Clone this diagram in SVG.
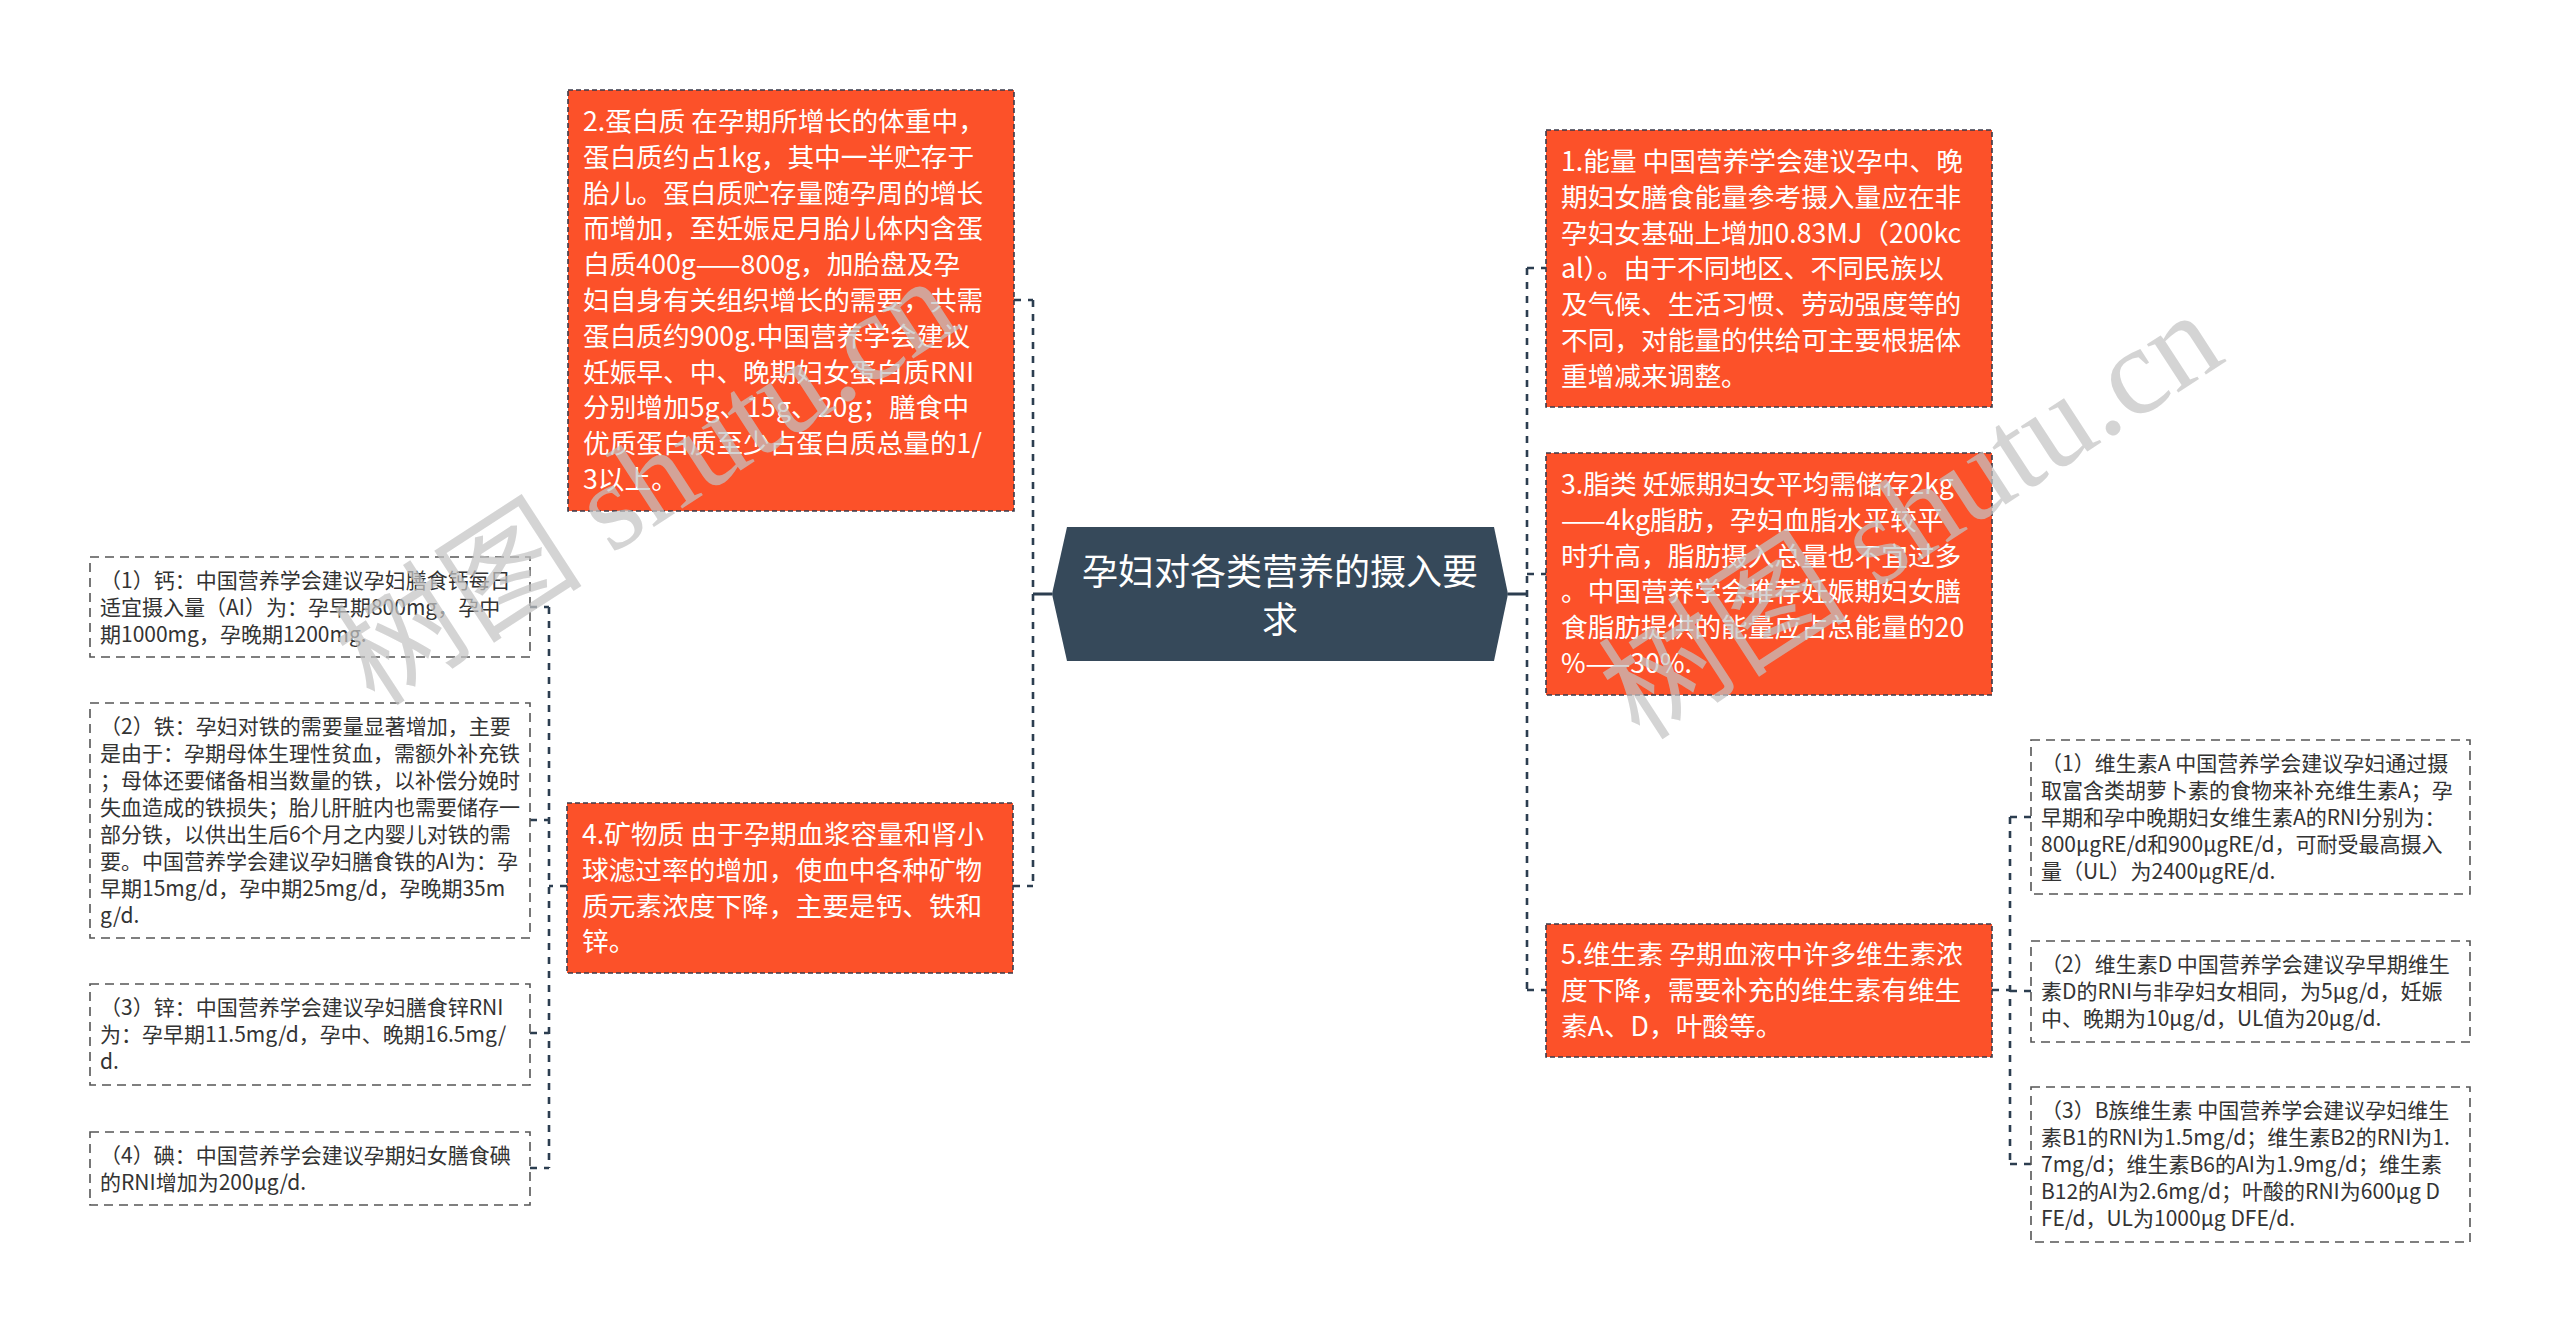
<svg xmlns="http://www.w3.org/2000/svg" width="2560" height="1332" viewBox="0 0 2560 1332">
<style>
.main{fill:#FC5129;stroke:#3a3a4a;stroke-width:1.6;stroke-dasharray:5 3}
.sub{fill:#ffffff;stroke:#555555;stroke-width:1.6;stroke-dasharray:9 6}
.mt{font-family:"Noto Sans CJK SC","Noto Sans",sans-serif;font-size:26.7px;fill:#ffffff}
.st{font-family:"Noto Sans CJK SC","Noto Sans",sans-serif;font-size:21px;fill:#333333}
.ct{font-family:"Noto Sans CJK SC","Noto Sans",sans-serif;font-size:36px;fill:#ffffff;text-anchor:middle}
.solid{stroke:#2c3e50;stroke-width:3;fill:none}
.dash{stroke:#2c3e50;stroke-width:2.6;fill:none;stroke-dasharray:7 7}
.wm{font-family:"Liberation Serif","Noto Sans CJK SC",serif;font-size:125px;fill:#c4c4c4;fill-opacity:0.72}
</style>
<rect width="2560" height="1332" fill="#ffffff"/>
<g id="connectors">
<path class="solid" d="M1052 594H1033M1508 594H1527"/>
<path class="dash" d="M1033 300V886M1014 300H1033M1013 886H1033"/>
<path class="dash" d="M1527 268V990M1527 268H1546M1527 574H1546M1527 990H1546"/>
<path class="dash" d="M1992 990H2010M2010 817V1164M2010 817H2031M2010 991H2031M2010 1164H2031"/>
<path class="dash" d="M567 886H549M549 607V1168M530 607H549M530 820H549M530 1033H549M530 1168H549"/>
</g>
<g id="center">
<polygon points="1067,527 1494,527 1508,594 1494,661 1067,661 1052,594" fill="#36495A"/>
<text class="ct" x="1280" y="585">孕妇对各类营养的摄入要<tspan x="1280" dy="48">求</tspan></text>
</g>
<g id="protein">
<rect class="main" x="568" y="90" width="446" height="421"/>
<text class="mt" x="583" y="131"><tspan x="583">2.蛋白质 在孕期所增长的体重中，</tspan><tspan x="583" dy="35.8">蛋白质约占1kg，其中一半贮存于</tspan><tspan x="583" dy="35.8">胎儿。蛋白质贮存量随孕周的增长</tspan><tspan x="583" dy="35.8">而增加，至妊娠足月胎儿体内含蛋</tspan><tspan x="583" dy="35.8">白质400g——800g，加胎盘及孕</tspan><tspan x="583" dy="35.8">妇自身有关组织增长的需要，共需</tspan><tspan x="583" dy="35.8">蛋白质约900g.中国营养学会建议</tspan><tspan x="583" dy="35.8">妊娠早、中、晚期妇女蛋白质RNI</tspan><tspan x="583" dy="35.8">分别增加5g、15g、20g；膳食中</tspan><tspan x="583" dy="35.8">优质蛋白质至少占蛋白质总量的1/</tspan><tspan x="583" dy="35.8">3以上。</tspan></text>
</g>
<g id="mineral">
<rect class="main" x="567" y="803" width="446" height="170"/>
<text class="mt" x="582" y="844"><tspan x="582">4.矿物质 由于孕期血浆容量和肾小</tspan><tspan x="582" dy="35.8">球滤过率的增加，使血中各种矿物</tspan><tspan x="582" dy="35.8">质元素浓度下降，主要是钙、铁和</tspan><tspan x="582" dy="35.8">锌。</tspan></text>
</g>
<g id="energy">
<rect class="main" x="1546" y="130" width="446" height="277"/>
<text class="mt" x="1561" y="171"><tspan x="1561">1.能量 中国营养学会建议孕中、晚</tspan><tspan x="1561" dy="35.8">期妇女膳食能量参考摄入量应在非</tspan><tspan x="1561" dy="35.8">孕妇女基础上增加0.83MJ（200kc</tspan><tspan x="1561" dy="35.8">al）。由于不同地区、不同民族以</tspan><tspan x="1561" dy="35.8">及气候、生活习惯、劳动强度等的</tspan><tspan x="1561" dy="35.8">不同，对能量的供给可主要根据体</tspan><tspan x="1561" dy="35.8">重增减来调整。</tspan></text>
</g>
<g id="fat">
<rect class="main" x="1546" y="453" width="446" height="242"/>
<text class="mt" x="1561" y="494"><tspan x="1561">3.脂类 妊娠期妇女平均需储存2kg</tspan><tspan x="1561" dy="35.8">——4kg脂肪，孕妇血脂水平较平</tspan><tspan x="1561" dy="35.8">时升高，脂肪摄入总量也不宜过多</tspan><tspan x="1561" dy="35.8">。中国营养学会推荐妊娠期妇女膳</tspan><tspan x="1561" dy="35.8">食脂肪提供的能量应占总能量的20</tspan><tspan x="1561" dy="35.8">%——30%.</tspan></text>
</g>
<g id="vitamin">
<rect class="main" x="1546" y="924" width="446" height="133"/>
<text class="mt" x="1561" y="964"><tspan x="1561">5.维生素 孕期血液中许多维生素浓</tspan><tspan x="1561" dy="35.8">度下降，需要补充的维生素有维生</tspan><tspan x="1561" dy="35.8">素A、D，叶酸等。</tspan></text>
</g>
<g id="calcium">
<rect class="sub" x="90" y="557" width="440" height="100"/>
<text class="st" x="100" y="587.6"><tspan x="100">（1）钙：中国营养学会建议孕妇膳食钙每日</tspan><tspan x="100" dy="27">适宜摄入量（AI）为：孕早期800mg，孕中</tspan><tspan x="100" dy="27">期1000mg，孕晚期1200mg.</tspan></text>
</g>
<g id="iron">
<rect class="sub" x="90" y="703" width="440" height="235"/>
<text class="st" x="100" y="733.6"><tspan x="100">（2）铁：孕妇对铁的需要量显著增加，主要</tspan><tspan x="100" dy="27">是由于：孕期母体生理性贫血，需额外补充铁</tspan><tspan x="100" dy="27">；母体还要储备相当数量的铁，以补偿分娩时</tspan><tspan x="100" dy="27">失血造成的铁损失；胎儿肝脏内也需要储存一</tspan><tspan x="100" dy="27">部分铁，以供出生后6个月之内婴儿对铁的需</tspan><tspan x="100" dy="27">要。中国营养学会建议孕妇膳食铁的AI为：孕</tspan><tspan x="100" dy="27">早期15mg/d，孕中期25mg/d，孕晚期35m</tspan><tspan x="100" dy="27">g/d.</tspan></text>
</g>
<g id="zinc">
<rect class="sub" x="90" y="984" width="440" height="101"/>
<text class="st" x="100" y="1014.6"><tspan x="100">（3）锌：中国营养学会建议孕妇膳食锌RNI</tspan><tspan x="100" dy="27">为：孕早期11.5mg/d，孕中、晚期16.5mg/</tspan><tspan x="100" dy="27">d.</tspan></text>
</g>
<g id="iodine">
<rect class="sub" x="90" y="1132" width="440" height="73"/>
<text class="st" x="100" y="1162.6"><tspan x="100">（4）碘：中国营养学会建议孕期妇女膳食碘</tspan><tspan x="100" dy="27">的RNI增加为200μg/d.</tspan></text>
</g>
<g id="vitA">
<rect class="sub" x="2031" y="740" width="439" height="154"/>
<text class="st" x="2041" y="770.6"><tspan x="2041">（1）维生素A 中国营养学会建议孕妇通过摄</tspan><tspan x="2041" dy="27">取富含类胡萝卜素的食物来补充维生素A；孕</tspan><tspan x="2041" dy="27">早期和孕中晚期妇女维生素A的RNI分别为：</tspan><tspan x="2041" dy="27">800μgRE/d和900μgRE/d，可耐受最高摄入</tspan><tspan x="2041" dy="27">量（UL）为2400μgRE/d.</tspan></text>
</g>
<g id="vitD">
<rect class="sub" x="2031" y="941" width="439" height="101"/>
<text class="st" x="2041" y="971.6"><tspan x="2041">（2）维生素D 中国营养学会建议孕早期维生</tspan><tspan x="2041" dy="27">素D的RNI与非孕妇女相同，为5μg/d，妊娠</tspan><tspan x="2041" dy="27">中、晚期为10μg/d，UL值为20μg/d.</tspan></text>
</g>
<g id="vitB">
<rect class="sub" x="2031" y="1087" width="439" height="155"/>
<text class="st" x="2041" y="1117.6"><tspan x="2041">（3）B族维生素 中国营养学会建议孕妇维生</tspan><tspan x="2041" dy="27">素B1的RNI为1.5mg/d；维生素B2的RNI为1.</tspan><tspan x="2041" dy="27">7mg/d；维生素B6的AI为1.9mg/d；维生素</tspan><tspan x="2041" dy="27">B12的AI为2.6mg/d；叶酸的RNI为600μg D</tspan><tspan x="2041" dy="27">FE/d，UL为1000μg DFE/d.</tspan></text>
</g>
<g id="watermark">
<text class="wm" transform="translate(375 708) rotate(-33)">树图 shutu.cn</text>
<text class="wm" transform="translate(1640 742) rotate(-33)">树图 shutu.cn</text>
</g>
</svg>
